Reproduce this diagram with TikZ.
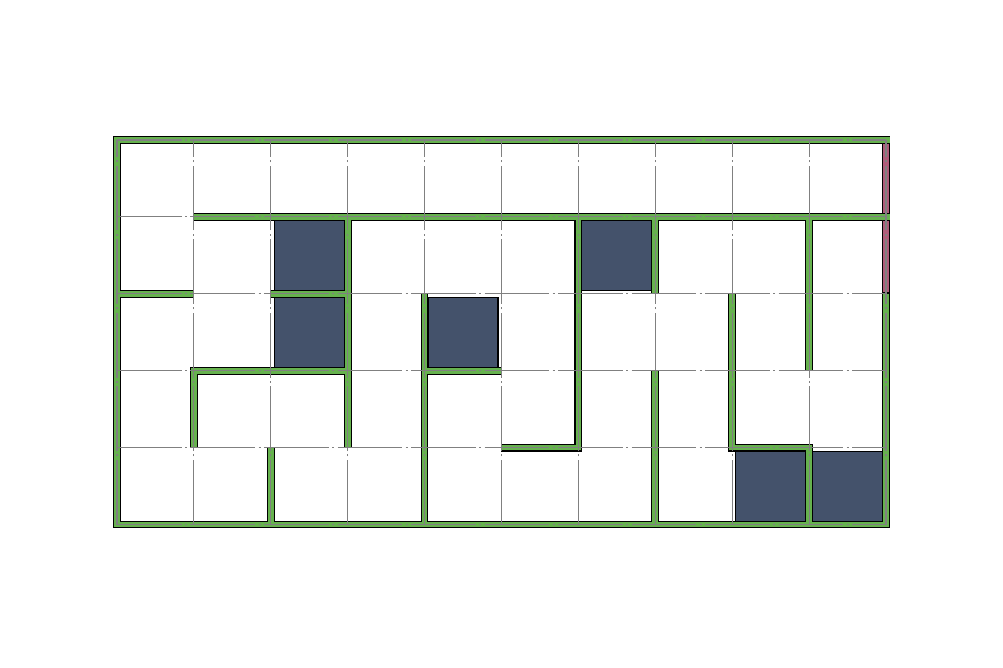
\documentclass[tikz,border=0pt]{standalone}
\usepackage{xcolor}
\usepackage{tikz}
\definecolor{wallgreen}{RGB}{102,178,78}
\definecolor{exitpink}{RGB}{176,92,122}
\definecolor{blockslate}{RGB}{68,82,107}
\definecolor{gridgray}{RGB}{128,128,128}
\newcommand\mazewalls{
  (10,3) -- (10,0) -- (0,0) -- (0,5) -- (10.049,5)
  (1,4) -- (10.049,4)
  (0,3) -- (1,3)
  (2,3) -- (3,3)
  (3,4) -- (3,1)
  (1,1) -- (1,2) -- (3,2)
  (2,0) -- (2,1)
  (4,0) -- (4,3)
  (4,2) -- (5,2)
  (5,1) -- (6,1) -- (6,4)
  (7,4) -- (7,3)
  (7,2) -- (7,0)
  (8,3) -- (8,1) -- (9,1) -- (9,0)
  (9,4) -- (9,2)}

\begin{document}
\begin{tikzpicture}[x=1cm,y=1cm,line join=miter]
  \useasboundingbox (-1.521,-1.853) rectangle (11.522,6.821);
  % blocked cells
  \foreach \cx/\cy in {2/3,2/2,4/2,6/3,8/0,9/0}
    \draw[fill=blockslate,draw=black,line width=0.4pt] (\cx+0.045,\cy+0.045) rectangle (\cx+0.955,\cy+0.955);
  % exit
  \draw[black,line width=2.9pt,line cap=rect] (10,3) -- (10,5);
  \draw[exitpink,line width=2.1pt] (10,3.03) -- (10,3.97);
  \draw[exitpink,line width=2.1pt] (10,4.03) -- (10,4.97);
  % walls
  \draw[black,line width=2.9pt] \mazewalls;
  \draw[wallgreen,line width=2.1pt] \mazewalls;
  % grid
  \foreach \gx in {0,...,10}
    \draw[gridgray,line width=0.4pt,dash pattern=on 24pt off 1.2pt on 0.8pt off 1.2pt] (\gx,0) -- (\gx,5);
  \foreach \gy in {0,...,5}
    \draw[gridgray,line width=0.4pt,dash pattern=on 24pt off 1.2pt on 0.8pt off 1.2pt] (0,\gy) -- (10,\gy);
\end{tikzpicture}
\end{document}
